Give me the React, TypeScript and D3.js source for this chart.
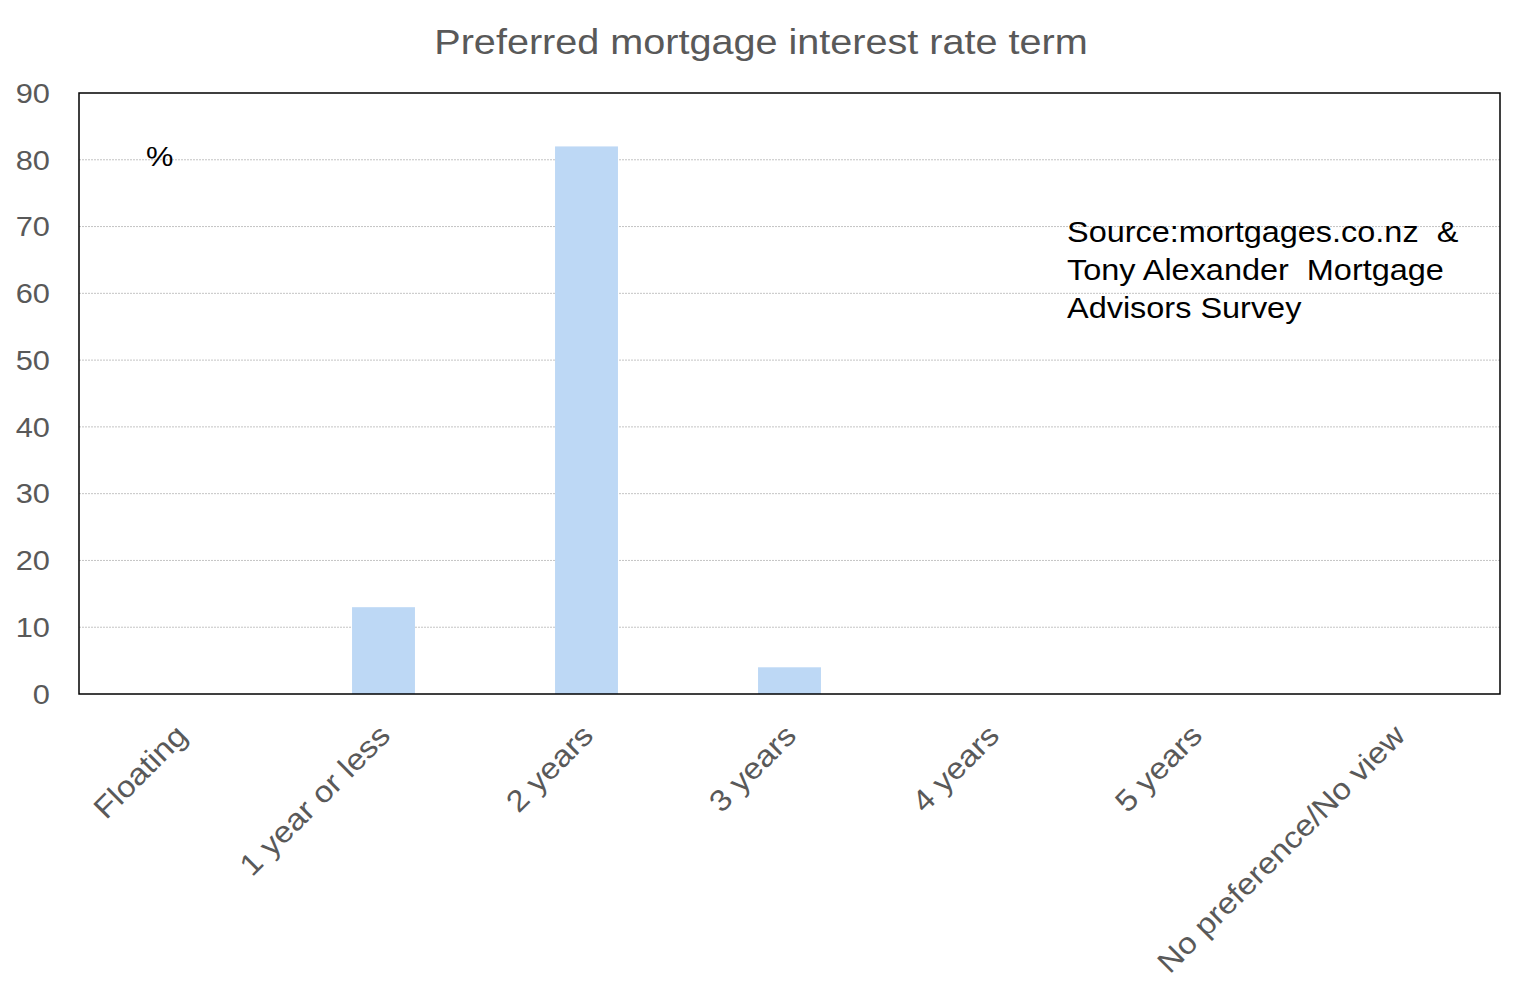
import { useEffect, useRef } from 'react';
import * as d3 from 'd3';

const categories = ['Floating', '1 year or less', '2 years', '3 years', '4 years', '5 years', 'No preference/No view'];
const values = [0, 13, 82, 4, 0, 0, 0];
const yTicks = [0, 10, 20, 30, 40, 50, 60, 70, 80, 90];
const sourceLines = ['Source:mortgages.co.nz  &', 'Tony Alexander  Mortgage', 'Advisors Survey'];

const W = 1525;
const H = 995;
const margin = { top: 93, right: 25, bottom: 301, left: 79 };
// the original's text is rendered slightly wide
const SX = 1.1;

export default function App() {
  const svgRef = useRef<SVGSVGElement>(null);

  useEffect(() => {
    if (!svgRef.current) return;
    const svg = d3.select(svgRef.current);
    svg.selectAll('*').remove();

    const innerW = W - margin.left - margin.right;
    const innerH = H - margin.top - margin.bottom;
    const font = '"Liberation Sans", Arial, sans-serif';

    const x = d3.scaleBand<string>().domain(categories).range([0, innerW]).paddingInner(0).paddingOuter(0);
    const y = d3.scaleLinear().domain([0, 90]).range([innerH, 0]);

    svg.append('rect').attr('width', W).attr('height', H).attr('fill', '#fff');

    // title
    svg.append('text')
      .attr('transform', `translate(761,54) scale(${SX},1)`)
      .attr('text-anchor', 'middle')
      .style('font-family', font)
      .style('font-size', '36px')
      .style('fill', '#595959')
      .text('Preferred mortgage interest rate term');

    const g = svg.append('g').attr('transform', `translate(${margin.left},${margin.top})`);

    // gridlines
    g.selectAll('.grid')
      .data(yTicks.filter(t => t > 0 && t < 90))
      .enter()
      .append('line')
      .attr('x1', 0)
      .attr('x2', innerW)
      .attr('y1', d => y(d))
      .attr('y2', d => y(d))
      .attr('stroke', '#c4c4c4')
      .attr('stroke-width', 1)
      .attr('stroke-dasharray', '2,1');

    // bars
    const barW = x.bandwidth() * 0.31;
    g.selectAll('.bar')
      .data(values)
      .enter()
      .append('rect')
      .attr('x', (_, i) => x(categories[i])! + (x.bandwidth() - barW) / 2)
      .attr('y', d => y(d))
      .attr('width', barW)
      .attr('height', d => innerH - y(d))
      .attr('fill', '#bdd8f5');

    // frame
    g.append('rect')
      .attr('width', innerW)
      .attr('height', innerH)
      .attr('fill', 'none')
      .attr('stroke', '#000')
      .attr('stroke-width', 1.5);

    // y tick labels
    g.selectAll('.ytick')
      .data(yTicks)
      .enter()
      .append('text')
      .attr('transform', d => `translate(-29,${y(d)}) scale(${SX},1)`)
      .attr('dy', '0.35em')
      .attr('text-anchor', 'end')
      .style('font-family', font)
      .style('font-size', '28px')
      .style('fill', '#595959')
      .text(d => d);

    // x labels
    g.selectAll('.xlabel')
      .data(categories)
      .enter()
      .append('text')
      .attr('transform', d => `translate(${x(d)! + x.bandwidth() / 2 + 1},${innerH + 36}) rotate(-45) scale(${SX},1)`)
      .attr('text-anchor', 'end')
      .attr('dy', '0.35em')
      .style('font-family', font)
      .style('font-size', '30px')
      .style('fill', '#595959')
      .text(d => d);

    // % label
    g.append('text')
      .attr('transform', `translate(67,73) scale(${SX},1)`)
      .style('font-family', font)
      .style('font-size', '28px')
      .style('fill', '#000')
      .text('%');

    // source note
    const src = g.append('text')
      .attr('transform', `translate(988,149) scale(${SX},1)`)
      .attr('xml:space', 'preserve')
      .style('font-family', font)
      .style('font-size', '29.5px')
      .style('fill', '#000')
      .style('white-space', 'pre');
    src.selectAll('tspan')
      .data(sourceLines)
      .enter()
      .append('tspan')
      .attr('x', 0)
      .attr('dy', (_, i) => (i === 0 ? 0 : 38))
      .text(d => d);
  }, []);

  return (
    <div style={{ position: 'absolute', left: 0, top: 0 }}>
      <svg ref={svgRef} width={W} height={H} style={{ display: 'block' }} />
    </div>
  );
}
